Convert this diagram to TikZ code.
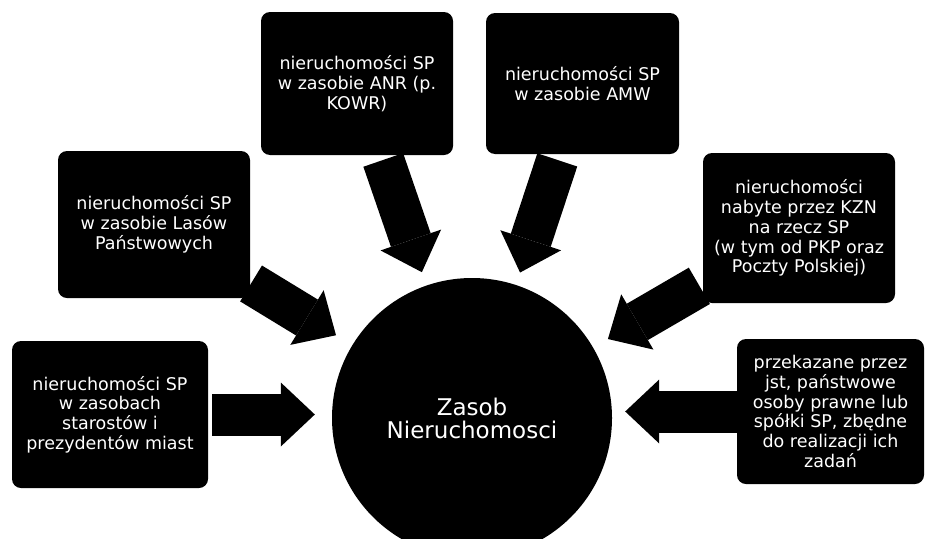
\documentclass[tikz,border=0pt]{standalone}
\usepackage{fontspec}
\setmainfont{DejaVu Sans}
\usetikzlibrary{arrows.meta}
\begin{document}
\begin{tikzpicture}[x=1pt,y=-1pt,
  box/.style={fill=black, rounded corners=9pt, text=white, align=center,
    font=\fontsize{17.5}{19.8}\selectfont, inner sep=0pt},
  hub/.style={circle, fill=black, text=white, align=center,
    font=\fontsize{23}{23}\selectfont, minimum size=280pt, inner sep=0pt},
  blockarrow/.style={draw=black, line width=42pt,
    -{Triangle[length=34pt,width=64pt,line width=0pt]}}
]
\useasboundingbox (0,0) rectangle (925,538);
\node[box, minimum width=192pt, minimum height=143pt] (anr) at (357,83.5)
  {nieruchomości SP\\w zasobie ANR (p.\\KOWR)};
\node[box, minimum width=193pt, minimum height=141pt] (amw) at (582.5,83.5)
  {nieruchomości SP\\w zasobie AMW};
\node[box, minimum width=192pt, minimum height=147pt] (lasy) at (154,224.5)
  {nieruchomości SP\\w zasobie Lasów\\Państwowych};
\node[box, minimum width=192pt, minimum height=150pt] (kzn) at (799,228)
  {nieruchomości\\nabyte przez KZN\\na rzecz SP\\(w tym od PKP oraz\\Poczty Polskiej)};
\node[box, minimum width=196pt, minimum height=147pt] (star) at (110,414.5)
  {nieruchomości SP\\w zasobach\\starostów i\\prezydentów miast};
\node[box, minimum width=187pt, minimum height=145pt] (jst) at (830.5,411.5)
  {przekazane przez\\jst, państwowe\\osoby prawne lub\\spółki SP, zbędne\\do realizacji ich\\zadań};
\node[hub] (hub) at (472,418) {Zasob\\Nieruchomosci};
\draw[blockarrow, shorten <=5pt, shorten >=14pt] (anr) -- (hub);
\draw[blockarrow, shorten <=6pt, shorten >=13pt] (amw) -- (hub);
\draw[blockarrow, shorten <=1pt, shorten >=19pt] (lasy) -- (hub);
\draw[blockarrow, shorten <=4pt, shorten >=17pt] (kzn) -- (hub);
\draw[blockarrow, shorten <=4pt, shorten >=17pt] (star.east) -- (star.east -| hub.west);
\draw[blockarrow, shorten <=-6pt, shorten >=13pt] (jst.west) -- (jst.west -| hub.east);
\end{tikzpicture}
\end{document}
